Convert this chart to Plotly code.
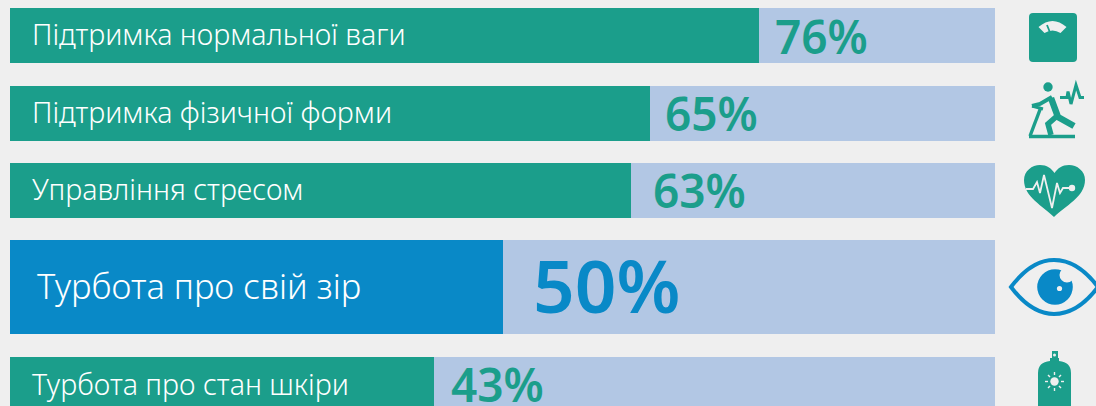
import plotly.graph_objects as go

# data
categories = ["Підтримка нормальної ваги", "Підтримка фізичної форми", "Управління стресом",
              "Турбота про свій зір", "Турбота про стан шкіри"]
values = [76, 65, 63, 50, 43]
full_scale = [100, 100, 100, 100, 100]
value_labels = ["76%", "65%", "63%", "50%", "43%"]

# layout constants (pixels)
W, H = 1096, 406
BAR_TOP = [8, 86, 163, 240, 357]
BAR_HEIGHT = [55, 55, 55, 94, 55]
BAR_CENTER = [t + h / 2 for t, h in zip(BAR_TOP, BAR_HEIGHT)]
PX0, PX100 = 10, 995
PX_PER = (PX100 - PX0) / 100
LABEL_LEFT = [30, 30, 30, 35, 30]
LABEL_YSHIFT = [2, 2, 2, 2, 1]
VALUE_SHIFT = [14, 13, 20, 28, 15]
VALUE_YSHIFT = [0, 1, 1, 3, 1]
LABEL_SIZE = [28.6, 28.6, 28.6, 34.5, 28.6]
VALUE_SIZE = [46, 46, 46, 73, 46]

TEAL = "#1b9e8b"
BLUE = "#0989c7"
LIGHT = "#b2c7e4"
BG = "#efefef"
BAR_COLORS = [TEAL, TEAL, TEAL, BLUE, TEAL]
FONT = "Noto Sans"

fig = go.Figure()
fig.add_bar(y=BAR_CENTER, x=full_scale, width=BAR_HEIGHT, orientation="h",
            marker=dict(color=LIGHT, line_width=0), hoverinfo="skip", showlegend=False)
fig.add_bar(y=BAR_CENTER, x=values, width=BAR_HEIGHT, orientation="h",
            marker=dict(color=BAR_COLORS, line_width=0), hoverinfo="skip", showlegend=False)

ann = []
for i, c in enumerate(categories):
    ann.append(dict(x=(LABEL_LEFT[i] - PX0) / PX_PER, y=BAR_CENTER[i], text=c, showarrow=False,
                    xanchor="left", yanchor="middle", xref="x", yref="y", yshift=LABEL_YSHIFT[i],
                    font=dict(family=FONT, size=LABEL_SIZE[i], color="white", weight=300)))
    ann.append(dict(x=values[i], y=BAR_CENTER[i], text=value_labels[i], showarrow=False,
                    xanchor="left", yanchor="middle", xref="x", yref="y", xshift=VALUE_SHIFT[i],
                    yshift=VALUE_YSHIFT[i],
                    font=dict(family=FONT, size=VALUE_SIZE[i], color=BAR_COLORS[i], weight=600)))

shapes = []
def fill(path, color):
    shapes.append(dict(type="path", path=path, xref="x2", yref="y", fillcolor=color,
                       line=dict(width=0), layer="above"))
def stroke(path, color, w):
    shapes.append(dict(type="path", path=path, xref="x2", yref="y", fillcolor="rgba(0,0,0,0)",
                       line=dict(color=color, width=w), layer="above"))
def circle(cx, cy, r, color):
    shapes.append(dict(type="circle", x0=cx - r, x1=cx + r, y0=cy - r, y1=cy + r, xref="x2", yref="y",
                       fillcolor=color, line=dict(width=0), layer="above"))

# scale icon
fill("M1033,13 L1073,13 Q1077,13 1077,17 L1077,58 Q1077,62 1073,62 L1033,62 Q1029,62 1029,58 L1029,17 Q1029,13 1033,13 Z", TEAL)
fill("M1038.5,27 Q1052.5,15 1066.5,27 L1060.5,33 Q1052.5,28 1044.5,33 Z", BG)
stroke("M1047,25 L1050,32.5", TEAL, 1.8)

# runner icon
circle(1048, 87, 4.7, TEAL)
stroke("M1051,98 L1058,117 L1074,126", TEAL, 6.5)
stroke("M1052,97 L1040,104 L1032,106", TEAL, 4)
stroke("M1057,116 L1048,124 L1051,135", TEAL, 5.5)
stroke("M1032,106 L1043,109", TEAL, 3)
stroke("M1041,107 L1030,136", TEAL, 3.4)
stroke("M1029,136.5 L1075,136.5", TEAL, 3.4)
stroke("M1060,97.5 L1067,97.5 L1068,91.5 L1071,104 L1076,85 L1080,97.5 L1084,97.5", TEAL, 3)

# heart icon
fill("M1054,217 C1043,206 1024,197 1024,180 C1024,171 1032,165 1040,165 C1047,165 1051,168 1054.5,173 "
     "C1058,168 1062,165 1069,165 C1077,165 1085,171 1085,180 C1085,197 1065,206 1054,217 Z", TEAL)
stroke("M1026,189 L1033,189 L1037,182 L1040,193 L1044,175 L1052,208 L1057,183 L1060,193 L1063,188 L1072,188", BG, 1.8)
circle(1072, 188, 3.2, BG)

# eye icon
stroke("M1011,287 C1026,267 1040,260 1054,260 C1068,260 1083,267 1098,287 C1083,307 1068,314 1054,314 C1040,314 1026,307 1011,287 Z", BLUE, 4)
circle(1055, 287, 17.8, BLUE)
circle(1067, 275, 7.5, BG)
circle(1059.5, 288.5, 2.6, BG)

# spray icon
fill("M1038,406 L1038,373 Q1038,362 1050,361 L1050,358 L1052,358 L1052,351 L1058,351 L1058,358 L1059,358 L1059,361 "
     "Q1071,362 1071,373 L1071,406 Z", TEAL)
circle(1054.5, 355, 1.5, BG)
circle(1054.5, 381.5, 4.2, BG)
for p in ["M1054.5,372 L1054.5,375", "M1054.5,388 L1054.5,391", "M1045,381.5 L1048,381.5", "M1061,381.5 L1064,381.5",
          "M1048,375 L1050,377", "M1059,386 L1061,388", "M1048,388 L1050,386", "M1059,377 L1061,375"]:
    stroke(p, BG, 1.4)

fig.update_layout(
    width=W, height=H, margin=dict(l=0, r=0, t=0, b=0), barmode="overlay", bargap=0,
    paper_bgcolor=BG, plot_bgcolor=BG, showlegend=False, annotations=ann, shapes=shapes,
    xaxis=dict(range=[-PX0 / PX_PER, (W - PX0) / PX_PER], visible=False, fixedrange=True),
    xaxis2=dict(range=[0, W], visible=False, overlaying="x", anchor="y", fixedrange=True),
    yaxis=dict(range=[H, 0], visible=False, fixedrange=True),
)
fig.add_scatter(x=[0], y=[0], xaxis="x2", yaxis="y", mode="markers", marker=dict(opacity=0),
                hoverinfo="skip", showlegend=False)

fig.write_html("out.html", config=dict(displayModeBar=False),
               post_script="document.body.style.margin='0';document.documentElement.style.overflow='hidden';")
